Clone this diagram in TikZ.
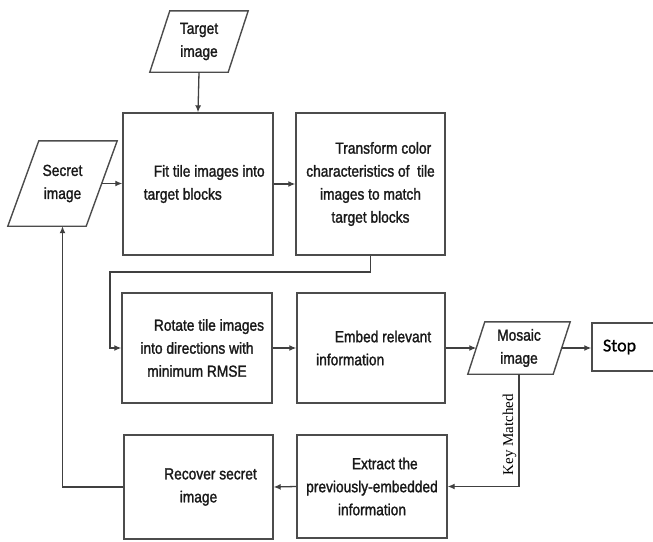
\documentclass[tikz,border=0pt]{standalone}
\usepackage{fontspec}
\setmainfont{Liberation Sans}[FakeStretch=0.86,FakeBold=1.5]
\newfontfamily\keyfont{Liberation Serif}
\newfontfamily\stopfont{Carlito}[FakeBold=1]
\usetikzlibrary{arrows.meta}
% draws a right-leaning parallelogram round a rectangular node of side length = node width
\newcommand{\paraoutline}[2]{%
  \draw[draw=black!70, line width=1.4pt, line join=miter]
    ([xshift=-#2/2]#1.south west) -- ([xshift=-#2/2]#1.south east) --
    ([xshift=#2/2]#1.north east) -- ([xshift=#2/2]#1.north west) -- cycle;}
\begin{document}
\begin{tikzpicture}[x=1pt,y=-1pt,
  txt/.style={font=\fontsize{16}{23}\selectfont, text=black!90, align=center, inner sep=0pt},
  box/.style={txt, draw=black!70, line width=1.4pt, rectangle},
  io/.style={txt, rectangle, draw=none},
  conn/.style={draw=black!75, line width=1.3pt, -{Latex[length=7pt,width=6pt]}}
]
\fill[white] (0,0) rectangle (653,541);
\useasboundingbox (0,0) rectangle (653,541);

% input/output parallelograms (node = body, outline drawn round it)
\node[io, minimum width=78pt, minimum height=61pt] (target) at (199,41.5) {Target\\image};
\paraoutline{target}{20pt}
\node[io, minimum width=78pt, minimum height=85pt] (secret) at (62.5,183.5) {Secret\\image};
\paraoutline{secret}{31pt}
\node[io, minimum width=85pt, minimum height=52pt] (mosaic) at (519,348) {Mosaic\\image};
\paraoutline{mosaic}{17pt}

% process boxes
\node[box, minimum width=150pt, minimum height=142pt] (fit) at (198,184)
  {\hspace*{1.4em}Fit tile images into\\target blocks\hspace*{1.9em}};
\node[box, minimum width=149pt, minimum height=142pt] (transform) at (370.5,184)
  {\hspace*{1.6em}Transform color\\characteristics of\ \ tile\\images to match\\target blocks};
\node[box, minimum width=150pt, minimum height=110pt] (rotate) at (197,348)
  {\hspace*{1.5em}Rotate tile images\\into directions with\\minimum RMSE};
\node[box, minimum width=148pt, minimum height=110pt] (embed) at (371,348)
  {\hspace*{1.5em}Embed relevant\\information\hspace*{2.6em}};
\node[box, minimum width=150pt, minimum height=103pt] (extract) at (372,486.5)
  {\hspace*{1.6em}Extract the\\previously-embedded\\information};
\node[box, minimum width=149pt, minimum height=104pt] (recover) at (198.5,487)
  {\hspace*{1.5em}Recover secret\\image};

% stop box (its right side runs past the picture edge)
\node[draw=black!70, line width=1.4pt, rectangle, minimum width=68pt, minimum height=48pt,
      text width=46pt, inner xsep=11pt, align=left, font=\stopfont\fontsize{18}{20}\selectfont]
      (stop) at (626,347) {Stop};

\coordinate (bend) at (110,272);

% connectors
\draw[conn] (target.south) -- (fit.north);
\draw[conn] (secret.east) -- (fit.west |- secret.east);
\draw[conn] (fit.east) -- (transform.west);
\draw[conn] (transform.south) |- (bend) |- (rotate.west);
\draw[conn] (rotate.east) -- (embed.west);
\draw[conn] (embed.east) -- (mosaic.west);
\draw[conn] (mosaic.east) -- (stop.west |- mosaic.east);
\draw[conn] (mosaic.south) |- (extract.east)
  node[pos=0.27, left=1pt, rotate=90, anchor=south, inner sep=1pt,
       font=\keyfont\fontsize{15}{17}\selectfont] {Key Matched};
\draw[conn] (extract.west) -- (recover.east);
\draw[conn] (recover.west) -| (secret.south);
\end{tikzpicture}
\end{document}
